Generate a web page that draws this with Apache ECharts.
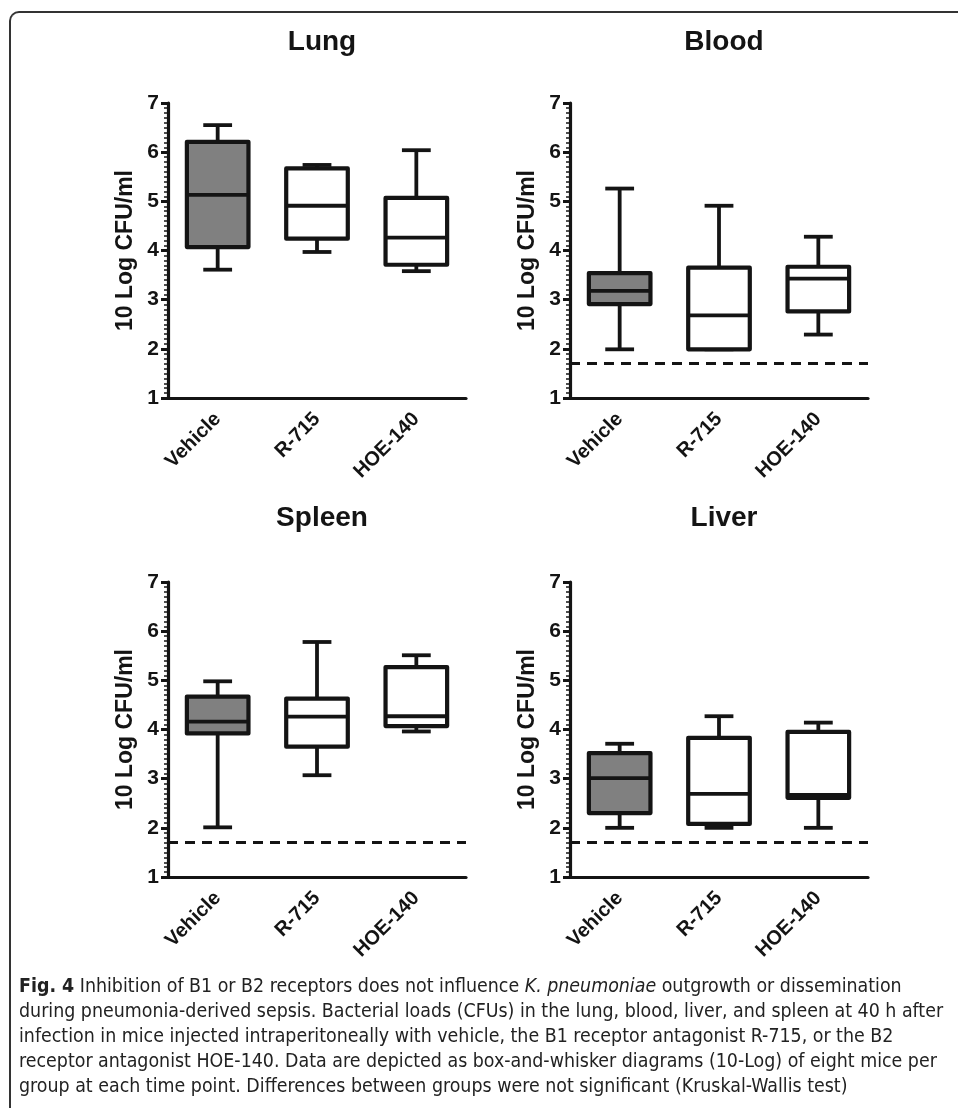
<!DOCTYPE html>
<html lang="en">
<head>
    <meta charset="UTF-8">
    <title>Fig. 4</title>
    <script src="https://cdn.jsdelivr.net/npm/echarts@6.0.0/dist/echarts.min.js"></script>
    <style>
        body { margin: 0; background: #fff; }
        #wrap { position: relative; width: 958px; height: 1108px; overflow: hidden; }
        #main { position: absolute; left: 0; top: 0; width: 958px; height: 1108px; }
        #frame {
            position: absolute; left: 9px; top: 11px; width: 980px; height: 1120px;
            border-top: 2px solid #333; border-left: 2px solid #333;
            border-top-left-radius: 10px; pointer-events: none;
        }
        #caption {
            position: absolute; left: 19px; top: 973px; white-space: nowrap;
            font-family: "Liberation Sans Narrow", "DejaVu Sans Condensed", "Open Sans", sans-serif;
            font-size: 19.4px; line-height: 25px; color: #222;
        }
    </style>
</head>
<body>
<div id="wrap">
    <div id="main"></div>
    <div id="frame"></div>
    <div id="caption">
        <b>Fig. 4</b> Inhibition of B1 or B2 receptors does not influence <i>K. pneumoniae</i> outgrowth or dissemination<br>
        during pneumonia-derived sepsis. Bacterial loads (CFUs) in the lung, blood, liver, and spleen at 40 h after<br>
        infection in mice injected intraperitoneally with vehicle, the B1 receptor antagonist R-715, or the B2<br>
        receptor antagonist HOE-140. Data are depicted as box-and-whisker diagrams (10-Log) of eight mice per<br>
        group at each time point. Differences between groups were not significant (Kruskal-Wallis test)
    </div>
</div>
<script>
    var categories = ['Vehicle', 'R-715', 'HOE-140'];
    var panelTitles = ['Lung', 'Blood', 'Spleen', 'Liver'];
    var yTicks = [1, 7, 1];   // min, max, interval
    var yName = '10 Log CFU/ml';
    var detectionLimit = 1.7;

    // [min, Q1, median, Q3, max] per group
    var lung = [[3.61, 4.07, 5.13, 6.21, 6.55], [3.97, 4.24, 4.91, 5.67, 5.74], [3.58, 3.71, 4.26, 5.07, 6.04]];
    var blood = [[1.99, 2.91, 3.18, 3.54, 5.26], [1.99, 1.99, 2.68, 3.65, 4.91], [2.29, 2.76, 3.43, 3.67, 4.28]];
    var spleen = [[2.01, 3.92, 4.16, 4.67, 4.98], [3.07, 3.65, 4.26, 4.63, 5.78], [3.96, 4.07, 4.27, 5.27, 5.51]];
    var liver = [[2.00, 2.30, 3.01, 3.52, 3.71], [2.00, 2.08, 2.69, 3.83, 4.27], [2.00, 2.61, 2.67, 3.95, 4.14]];
    var showLimit = [false, true, true, true];

    var panels = [lung, blood, spleen, liver];
    var fills = ['#808080', '#ffffff', '#ffffff'];
    var ink = '#141414';
    var font = '"Liberation Sans", Arial, sans-serif';

    // grid boxes: left/top of axes origin area
    var grids = [
        {left: 168, top: 103, width: 298, height: 295},
        {left: 570, top: 103, width: 298, height: 295},
        {left: 168, top: 582, width: 298, height: 295},
        {left: 570, top: 582, width: 298, height: 295}
    ];
    var titleTops = [23, 23, 499, 499];

    function renderBox(params, api) {
        var i = api.value(0);
        var lo = api.coord([i, api.value(1)]);
        var q1 = api.coord([i, api.value(2)]);
        var md = api.coord([i, api.value(3)]);
        var q3 = api.coord([i, api.value(4)]);
        var hi = api.coord([i, api.value(5)]);
        var band = api.size([1, 0])[0];
        var bw = band * 0.62, cw = band * 0.29;
        var cx = lo[0];
        var ls = {stroke: ink, lineWidth: 3.8, lineCap: 'butt'};
        return {
            type: 'group',
            children: [
                {type: 'line', shape: {x1: cx, y1: hi[1], x2: cx, y2: q3[1]}, style: ls},
                {type: 'line', shape: {x1: cx, y1: q1[1], x2: cx, y2: lo[1]}, style: ls},
                {type: 'line', shape: {x1: cx - cw / 2, y1: hi[1], x2: cx + cw / 2, y2: hi[1]}, style: ls},
                {type: 'line', shape: {x1: cx - cw / 2, y1: lo[1], x2: cx + cw / 2, y2: lo[1]}, style: ls},
                {type: 'rect', shape: {x: cx - bw / 2, y: q3[1], width: bw, height: q1[1] - q3[1]},
                    style: {fill: fills[i], stroke: ink, lineWidth: 4.2, lineJoin: 'round'}},
                {type: 'line', shape: {x1: cx - bw / 2, y1: md[1], x2: cx + bw / 2, y2: md[1]}, style: ls}
            ]
        };
    }

    var option = {
        backgroundColor: '#fff',
        animation: false,
        title: [],
        grid: [],
        xAxis: [],
        yAxis: [],
        series: []
    };

    for (var p = 0; p < 4; p++) {
        var g = grids[p];
        option.title.push({
            text: panelTitles[p],
            left: g.left + g.width / 2,
            top: titleTops[p],
            textAlign: 'center',
            textStyle: {fontSize: 28, fontWeight: 'bold', color: ink, fontFamily: font}
        });
        option.grid.push({left: g.left, top: g.top, width: g.width, height: g.height, containLabel: false});
        option.xAxis.push({
            type: 'category',
            gridIndex: p,
            data: categories,
            boundaryGap: true,
            axisLine: {lineStyle: {color: ink, width: 3.2}},
            axisTick: {alignWithLabel: true, length: 8, lineStyle: {color: ink, width: 3}},
            axisLabel: {interval: 0, rotate: 45, margin: 18, fontSize: 20, fontWeight: 'bold', color: ink, fontFamily: font},
            splitLine: {show: false}
        });
        option.yAxis.push({
            type: 'value',
            gridIndex: p,
            min: yTicks[0],
            max: yTicks[1],
            interval: yTicks[2],
            name: yName,
            nameLocation: 'middle',
            nameRotate: 90,
            nameGap: 31,
            nameTextStyle: {fontSize: 23, fontWeight: 'bold', color: ink, fontFamily: font},
            axisLine: {show: true, lineStyle: {color: ink, width: 3.2}},
            axisTick: {show: true, length: 7, lineStyle: {color: ink, width: 3}},
            minorTick: {show: true, splitNumber: 10, length: 4, lineStyle: {color: ink, width: 1.5}},
            axisLabel: {margin: 9, fontSize: 21, fontWeight: 'bold', color: ink, fontFamily: font},
            splitLine: {show: false}
        });
        var rows = panels[p].map(function (d, i) {
            return [i, d[0], d[1], d[2], d[3], d[4]];
        });
        var s = {
            type: 'custom',
            xAxisIndex: p,
            yAxisIndex: p,
            renderItem: renderBox,
            encode: {x: 0, y: [1, 2, 3, 4, 5]},
            data: rows,
            silent: true
        };
        if (showLimit[p]) {
            s.markLine = {
                silent: true,
                symbol: 'none',
                label: {show: false},
                lineStyle: {color: ink, width: 3, type: [10, 7]},
                data: [{yAxis: detectionLimit}]
            };
        }
        option.series.push(s);
    }

    var myChart = echarts.init(document.getElementById('main'));
    myChart.setOption(option);
</script>
</body>
</html>
